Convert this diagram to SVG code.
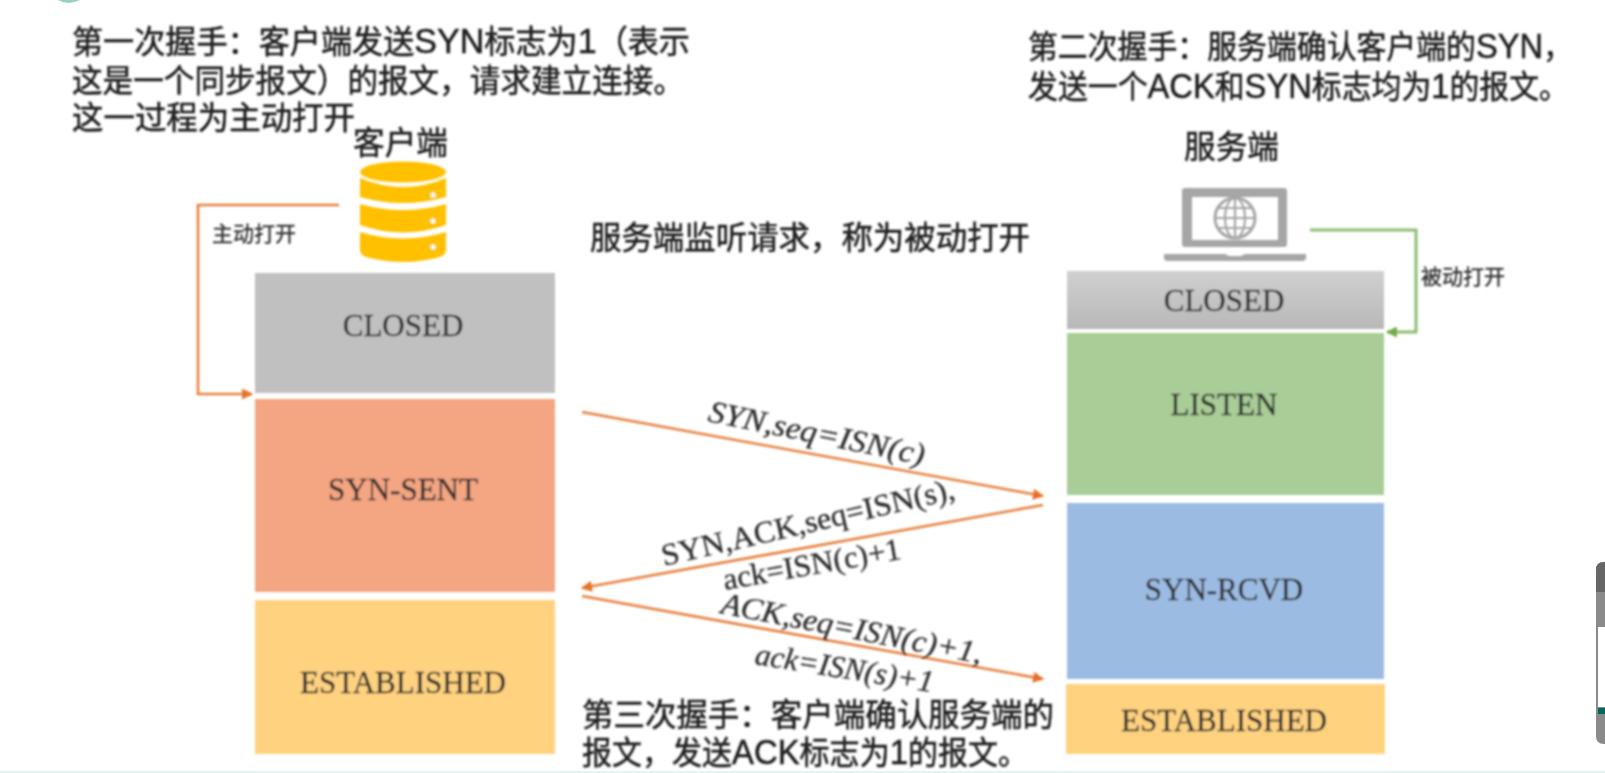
<svg xmlns="http://www.w3.org/2000/svg" width="1605" height="773" viewBox="0 0 1605 773">
<style>
.cn{font-family:"Liberation Sans","Noto Sans CJK SC",sans-serif;fill:#1c1c1c;font-size:32px;stroke:#1c1c1c;stroke-width:.5}
.cn tspan{font-size:35px}
.st{font-family:"Liberation Serif","Noto Sans CJK SC",serif;fill:#2c2c2c;font-size:31px;text-anchor:middle;stroke:#2c2c2c;stroke-width:.3}
.lb{font-family:"Liberation Serif",serif;fill:#2c2c2c;font-size:31px;stroke:#2c2c2c;stroke-width:.3}
.it{font-style:italic}
.sm{font-family:"Liberation Sans","Noto Sans CJK SC",sans-serif;fill:#2c2c2c;font-size:21px;stroke:#2c2c2c;stroke-width:.3}
.or{fill:none;stroke:#e8803e;stroke-width:2.6}
.gr{fill:none;stroke:#8cbc70;stroke-width:3}
</style>
<defs>
<filter id="b" x="-5%" y="-5%" width="110%" height="110%"><feGaussianBlur stdDeviation="0.8"/></filter>
<marker id="ao" viewBox="0 0 10 10" refX="9" refY="5" markerWidth="13" markerHeight="11" orient="auto" markerUnits="userSpaceOnUse"><path d="M0 0L10 5L0 10Z" fill="#e8702a"/></marker>
<marker id="ag" viewBox="0 0 10 10" refX="9" refY="5" markerWidth="13" markerHeight="11" orient="auto" markerUnits="userSpaceOnUse"><path d="M0 0L10 5L0 10Z" fill="#70ad47"/></marker>
<linearGradient id="gc" x1="0" y1="0" x2="0" y2="1"><stop offset="0" stop-color="#d0d0d0"/><stop offset="1" stop-color="#b8b8b8"/></linearGradient>
</defs>
<rect width="1605" height="773" fill="#fff"/>
<g filter="url(#b)">
<g id="notes">
<text class="cn" x="72" y="53" textLength="618" lengthAdjust="spacingAndGlyphs">第一次握手：客户端发送<tspan>SYN</tspan>标志为<tspan>1</tspan>（表示</text>
<text class="cn" x="72" y="92" textLength="612" lengthAdjust="spacingAndGlyphs">这是一个同步报文）的报文，请求建立连接。</text>
<text class="cn" x="72" y="129" textLength="283" lengthAdjust="spacingAndGlyphs">这一过程为主动打开</text>
<text class="cn" x="1028" y="58" textLength="545" lengthAdjust="spacingAndGlyphs">第二次握手：服务端确认客户端的<tspan>SYN</tspan>，</text>
<text class="cn" x="1028" y="98" textLength="541" lengthAdjust="spacingAndGlyphs">发送一个<tspan>ACK</tspan>和<tspan>SYN</tspan>标志均为<tspan>1</tspan>的报文。</text>
<text class="cn" x="590" y="249" textLength="440" lengthAdjust="spacingAndGlyphs">服务端监听请求，称为被动打开</text>
<text class="cn" x="582" y="726" textLength="472" lengthAdjust="spacingAndGlyphs">第三次握手：客户端确认服务端的</text>
<text class="cn" x="582" y="764" textLength="446" lengthAdjust="spacingAndGlyphs">报文，发送<tspan>ACK</tspan>标志为<tspan>1</tspan>的报文。</text>
</g>
<g id="client">
<text class="cn" x="353" y="154" textLength="95" lengthAdjust="spacingAndGlyphs">客户端</text>
<g id="client-icon" fill="#ffc000">
<ellipse cx="403" cy="172" rx="43" ry="10.5"/>
<path d="M360 178Q403 196 446 178V197Q403 209 360 197Z"/>
<path d="M360 204Q403 216 446 204V225Q403 240 360 225Z"/>
<path d="M360 232Q403 245 446 232V250Q446 256 436 258Q403 266 370 258Q360 256 360 250Z"/>
<g fill="#fff"><circle cx="433" cy="195" r="2.6"/><circle cx="433" cy="221" r="2.6"/><circle cx="433" cy="247" r="2.6"/></g>
</g>
</g>
<g id="client-closed"><rect x="255" y="273" width="300" height="120" fill="#c0c0c0"/><text class="st" x="403" y="336">CLOSED</text></g>
<g id="client-syn-sent"><rect x="255" y="399" width="300" height="193" fill="#f4a582"/><text class="st" x="403" y="500">SYN-SENT</text></g>
<g id="client-established"><rect x="255" y="600" width="300" height="154" fill="#ffd280"/><text class="st" x="403" y="693">ESTABLISHED</text></g>
<g id="server">
<text class="cn" x="1184" y="158" textLength="95" lengthAdjust="spacingAndGlyphs">服务端</text>
<g id="server-icon" fill="#a6a6a6">
<path fill-rule="evenodd" d="M1185 188H1284Q1287 188 1287 191V244Q1287 247 1284 247H1185Q1182 247 1182 244V191Q1182 188 1185 188ZM1192 197V240H1278V197Z"/>
<path d="M1164 254H1225L1229 256H1241L1245 254H1306V258Q1306 261 1302 261H1168Q1164 261 1164 258Z"/>
<circle cx="1235" cy="218" r="20" fill="none" stroke="#a6a6a6" stroke-width="3"/>
<ellipse cx="1235" cy="218" rx="10" ry="20" fill="none" stroke="#a6a6a6" stroke-width="2.2"/>
<path d="M1235 198V238M1215 218H1255M1219 208H1251M1219 228H1251" fill="none" stroke="#a6a6a6" stroke-width="2.2"/>
</g>
</g>
<g id="server-closed"><rect x="1067" y="271" width="317" height="58" fill="url(#gc)"/><text class="st" x="1224" y="311">CLOSED</text></g>
<g id="server-listen"><rect x="1067" y="333" width="317" height="162" fill="#a9cd96"/><text class="st" x="1224" y="415">LISTEN</text></g>
<g id="server-syn-rcvd"><rect x="1067" y="503" width="317" height="176" fill="#9cbbe3"/><text class="st" x="1224" y="600">SYN-RCVD</text></g>
<g id="server-established"><rect x="1066" y="684" width="319" height="70" fill="#ffd280"/><text class="st" x="1224" y="731">ESTABLISHED</text></g>
<g id="connectors">
<path class="or" marker-end="url(#ao)" d="M339 205H198V394H252"/>
<path class="gr" marker-end="url(#ag)" d="M1310 230H1416V332H1387"/>
<path class="or" marker-end="url(#ao)" d="M582 412L1043 496"/>
<path class="or" marker-end="url(#ao)" d="M1043 505L582 588"/>
<path class="or" marker-end="url(#ao)" d="M582 596L1043 679"/>
</g>
<g id="labels">
<text class="sm" x="212" y="241" textLength="84" lengthAdjust="spacingAndGlyphs">主动打开</text>
<text class="sm" x="1421" y="284" textLength="84" lengthAdjust="spacingAndGlyphs">被动打开</text>
<text class="lb it" transform="translate(707 421) rotate(11.5)" textLength="220" lengthAdjust="spacingAndGlyphs">SYN,seq=ISN(c)</text>
<text class="lb" transform="translate(664 566) rotate(-13)" textLength="300" lengthAdjust="spacingAndGlyphs">SYN,ACK,seq=ISN(s),</text>
<text class="lb" transform="translate(725 590) rotate(-10)" textLength="180" lengthAdjust="spacingAndGlyphs">ack=ISN(c)+1</text>
<text class="lb it" transform="translate(720 613) rotate(11)" textLength="265" lengthAdjust="spacingAndGlyphs">ACK,seq=ISN(c)+1,</text>
<text class="lb it" transform="translate(754 664) rotate(9)" textLength="180" lengthAdjust="spacingAndGlyphs">ack=ISN(s)+1</text>
</g>
</g>
<g id="side-widget">
<path d="M1605 562V744H1604Q1596 744 1596 736V570Q1596 562 1604 562Z" fill="#8a8a8a"/>
<path d="M1596 592V570Q1596 562 1604 562H1605V592Z" fill="#666"/>
<rect x="1598" y="627" width="7" height="80" fill="#fff"/>
<rect x="1598" y="708" width="7" height="6" fill="#00695c"/>
</g>
<rect y="771" width="1605" height="2" fill="#e4f4f4"/>
<path d="M58 0Q68 6 80 0Z" fill="#9ad0c4"/>
</svg>
